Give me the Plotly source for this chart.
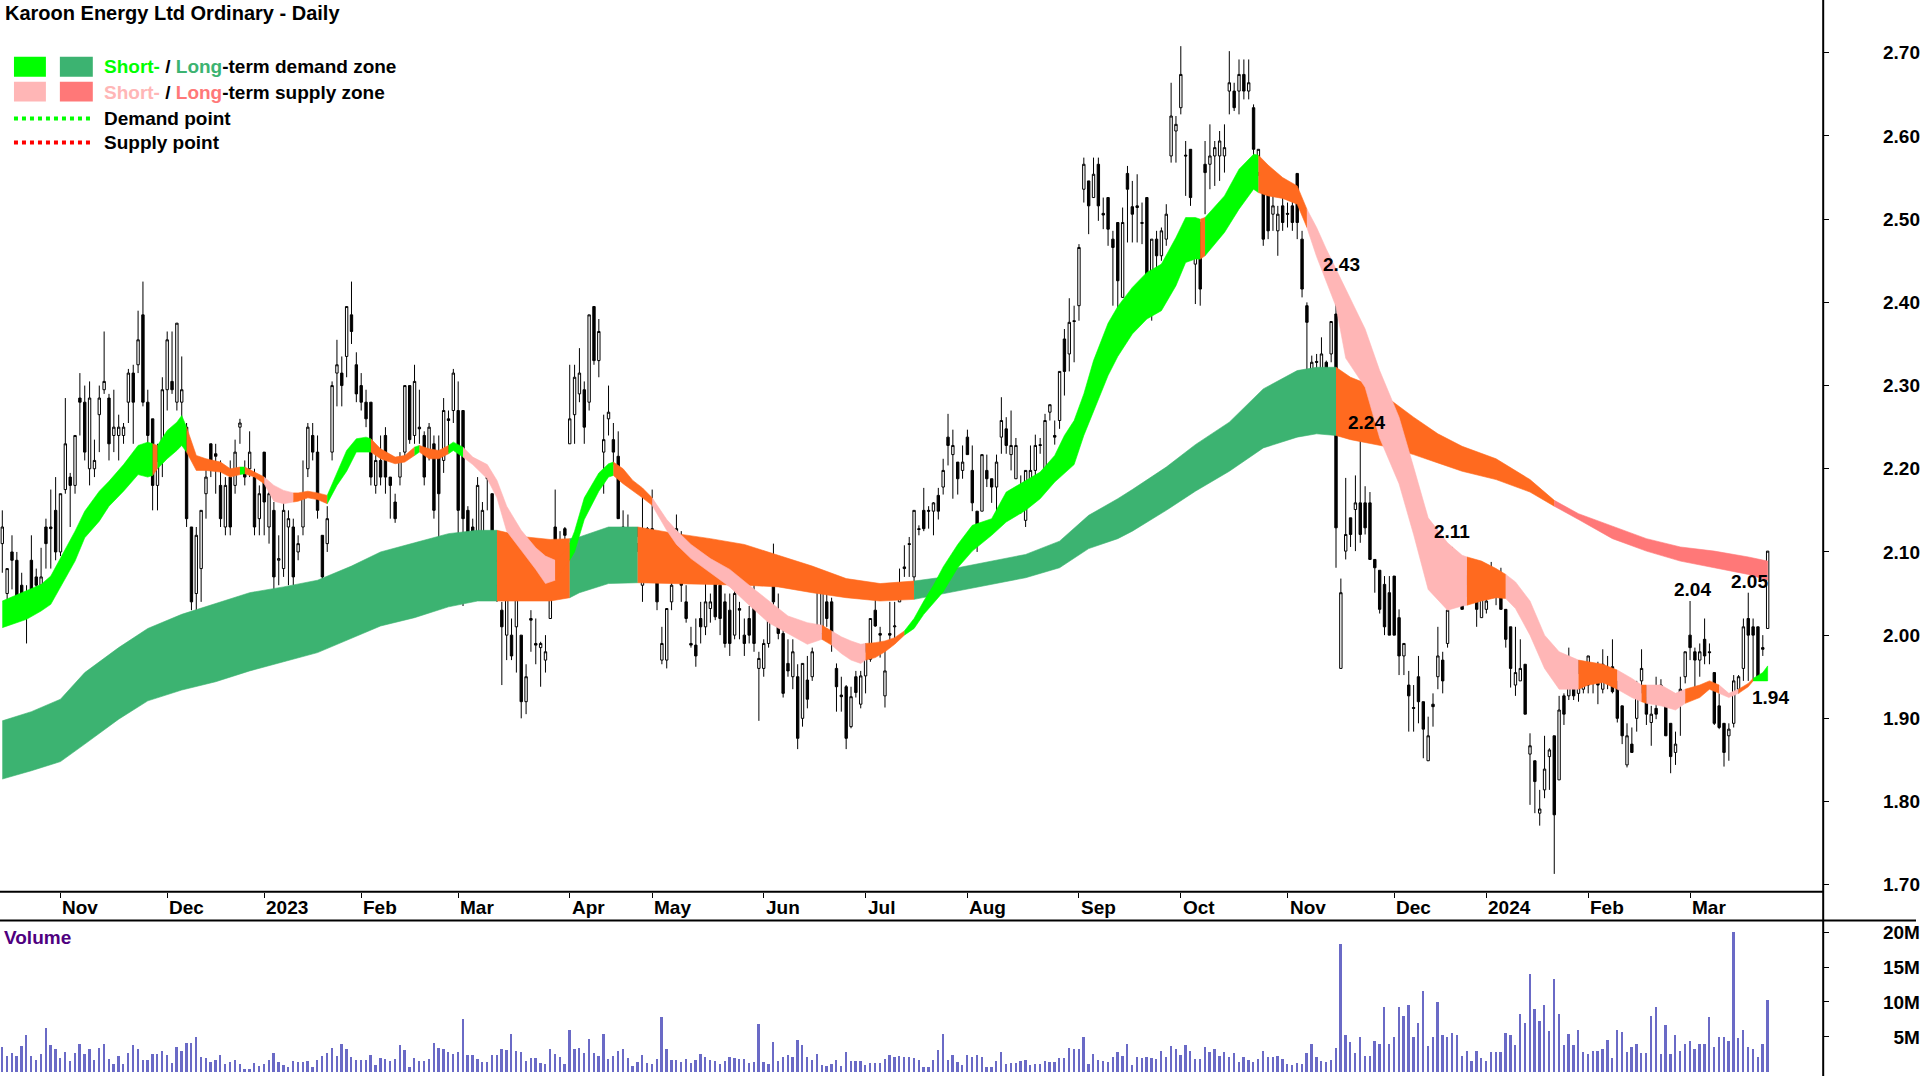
import pandas as pd
import plotly.graph_objects as go

# ---------------- data ----------------
opens = [
 2.110,2.050,2.100,2.090,2.060,2.030,2.090,2.070,2.060,2.130,
 2.130,2.150,2.100,2.175,2.190,2.180,2.285,2.280,2.200,2.200,
 2.265,2.295,2.285,2.240,2.240,2.240,2.280,2.315,2.325,2.385,
 2.280,2.260,2.180,2.220,2.295,2.305,2.280,2.280,2.250,2.130,
 2.050,2.080,2.170,2.230,2.218,2.180,2.130,2.190,2.180,2.250,
 2.200,2.200,2.190,2.140,2.220,2.130,2.150,2.090,2.080,2.130,
 2.130,2.100,2.130,2.200,2.240,2.220,2.120,2.110,2.220,2.315,
 2.315,2.335,2.385,2.325,2.300,2.280,2.280,2.180,2.210,2.240,
 2.190,2.160,2.190,2.220,2.300,2.240,2.250,2.240,2.220,2.230,
 2.220,2.210,2.260,2.270,2.270,2.270,2.150,2.130,2.120,2.120,
 2.190,2.170,2.060,2.030,2.000,2.000,2.010,2.000,1.920,2.020,
 1.990,1.985,1.970,2.020,2.130,2.080,2.128,2.230,2.265,2.290,
 2.295,2.280,2.395,2.330,2.220,2.260,2.235,2.215,2.130,2.100,
 2.128,2.110,2.060,2.128,2.128,2.090,1.970,1.970,2.040,2.120,
 2.120,2.040,1.990,1.988,2.020,2.010,2.032,2.080,2.060,2.040,
 2.030,2.000,2.032,2.000,2.020,2.050,1.960,1.960,1.990,2.070,
 2.020,2.002,1.966,1.950,1.950,1.900,1.946,1.950,2.012,2.002,
 2.040,2.040,1.960,1.928,1.938,1.890,1.950,1.917,1.951,1.971,
 2.030,2.002,1.927,2.002,2.010,2.040,2.082,2.110,2.070,2.128,
 2.150,2.150,2.149,2.168,2.178,2.238,2.217,2.208,2.198,2.238,
 2.198,2.149,2.149,2.198,2.188,2.178,2.238,2.248,2.217,2.188,
 2.177,2.138,2.178,2.198,2.229,2.188,2.268,2.240,2.258,2.356,
 2.338,2.378,2.396,2.536,2.546,2.526,2.566,2.507,2.526,2.476,
 2.496,2.406,2.555,2.515,2.516,2.496,2.526,2.386,2.476,2.456,
 2.476,2.576,2.606,2.634,2.577,2.584,2.446,2.496,2.566,2.566,
 2.576,2.576,2.576,2.654,2.654,2.654,2.674,2.654,2.634,2.556,
 2.564,2.536,2.506,2.486,2.516,2.507,2.516,2.555,2.476,2.396,
 2.288,2.329,2.318,2.328,2.338,2.386,1.960,2.101,2.141,2.151,
 2.159,2.159,2.159,2.091,2.078,2.061,2.051,2.071,2.021,1.975,
 1.940,1.913,1.950,1.920,1.849,1.917,1.950,1.970,1.990,2.051,
 2.061,2.071,2.071,2.061,2.041,2.021,2.031,2.071,2.051,2.071,
 2.031,2.010,1.940,1.945,1.965,1.857,1.849,1.786,1.814,1.854,
 1.879,1.826,1.927,1.927,1.942,1.930,1.935,1.940,1.955,1.953,
 1.935,1.960,1.962,1.940,1.915,1.844,1.869,1.900,1.945,1.925,
 1.895,1.912,1.940,1.925,1.894,1.859,1.925,1.950,2.000,1.980,
 1.970,1.995,1.980,1.955,1.915,1.894,1.879,1.894,1.935,1.960,
 2.020,2.010,2.010,1.985,2.008]
highs = [
 2.150,2.080,2.120,2.100,2.075,2.060,2.120,2.080,2.105,2.140,
 2.175,2.190,2.170,2.285,2.195,2.240,2.315,2.300,2.305,2.235,
 2.300,2.365,2.290,2.295,2.265,2.255,2.320,2.325,2.390,2.425,
 2.295,2.260,2.230,2.310,2.365,2.365,2.375,2.335,2.255,2.130,
 2.130,2.150,2.210,2.230,2.230,2.210,2.190,2.210,2.235,2.260,
 2.210,2.245,2.200,2.180,2.220,2.180,2.160,2.120,2.160,2.150,
 2.140,2.120,2.210,2.255,2.255,2.240,2.120,2.155,2.305,2.355,
 2.335,2.395,2.425,2.340,2.315,2.295,2.280,2.220,2.240,2.250,
 2.190,2.170,2.220,2.300,2.300,2.325,2.295,2.245,2.255,2.240,
 2.240,2.285,2.270,2.320,2.305,2.270,2.155,2.140,2.190,2.160,
 2.195,2.170,2.090,2.040,2.085,2.020,2.060,2.000,1.965,2.030,
 2.020,1.992,2.000,2.110,2.175,2.125,2.130,2.325,2.325,2.345,
 2.305,2.385,2.395,2.380,2.265,2.300,2.255,2.245,2.150,2.145,
 2.130,2.130,2.170,2.130,2.175,2.110,2.010,2.032,2.080,2.145,
 2.125,2.060,2.010,2.020,2.040,2.070,2.050,2.100,2.070,2.050,
 2.050,2.060,2.040,2.020,2.035,2.070,1.980,1.995,2.040,2.110,
 2.050,2.010,1.995,1.995,1.965,1.966,1.975,1.985,2.060,2.065,
 2.050,2.045,1.966,1.950,1.940,1.938,1.957,1.957,1.990,2.020,
 2.050,2.010,1.990,2.040,2.040,2.080,2.108,2.118,2.150,2.132,
 2.177,2.155,2.160,2.177,2.212,2.266,2.247,2.208,2.228,2.247,
 2.228,2.149,2.217,2.217,2.188,2.217,2.286,2.262,2.270,2.237,
 2.192,2.198,2.228,2.241,2.237,2.266,2.277,2.258,2.317,2.368,
 2.405,2.396,2.470,2.574,2.546,2.574,2.574,2.526,2.526,2.486,
 2.496,2.514,2.564,2.546,2.554,2.520,2.526,2.476,2.486,2.490,
 2.518,2.664,2.624,2.708,2.594,2.584,2.496,2.496,2.594,2.614,
 2.594,2.606,2.614,2.702,2.664,2.692,2.692,2.692,2.638,2.584,
 2.564,2.544,2.544,2.516,2.526,2.520,2.536,2.555,2.486,2.400,
 2.336,2.338,2.358,2.330,2.377,2.426,2.068,2.189,2.141,2.192,
 2.237,2.179,2.172,2.091,2.078,2.071,2.071,2.071,2.031,1.990,
 1.957,1.940,1.975,1.920,1.902,1.930,2.010,1.980,2.041,2.106,
 2.071,2.075,2.078,2.071,2.061,2.081,2.053,2.088,2.071,2.081,
 2.031,2.010,2.010,1.995,1.965,1.882,1.849,1.814,1.879,1.864,
 1.879,1.927,1.930,1.985,1.955,1.970,1.960,1.975,1.960,1.968,
 1.983,1.975,1.995,1.945,1.915,1.894,1.889,1.945,1.983,1.940,
 1.915,1.950,1.947,1.925,1.894,1.884,1.950,1.980,2.041,1.985,
 1.990,2.020,1.990,1.955,1.930,1.894,1.894,1.952,1.952,2.020,
 2.051,2.020,2.010,2.000,2.101]
lows = [
 2.075,2.025,2.055,2.020,2.020,1.990,2.040,2.040,2.050,2.080,
 2.080,2.090,2.095,2.170,2.130,2.170,2.240,2.210,2.180,2.190,
 2.220,2.290,2.210,2.220,2.210,2.230,2.255,2.230,2.315,2.275,
 2.230,2.150,2.150,2.190,2.270,2.290,2.270,2.250,2.130,2.030,
 2.000,2.040,2.140,2.190,2.170,2.130,2.120,2.120,2.170,2.230,
 2.180,2.190,2.120,2.120,2.120,2.110,2.050,2.060,2.070,2.060,
 2.060,2.090,2.120,2.190,2.210,2.140,2.055,2.100,2.210,2.275,
 2.275,2.310,2.350,2.280,2.270,2.250,2.180,2.170,2.180,2.170,
 2.140,2.135,2.180,2.210,2.230,2.230,2.230,2.180,2.210,2.140,
 2.110,2.195,2.220,2.255,2.100,2.035,2.100,2.080,2.100,2.090,
 2.150,2.060,2.040,1.940,1.970,1.970,1.955,1.900,1.905,1.980,
 1.965,1.938,1.955,2.020,2.090,2.075,2.100,2.230,2.230,2.280,
 2.230,2.270,2.325,2.310,2.170,2.240,2.205,2.140,2.100,2.100,
 2.100,2.100,2.040,2.100,2.100,2.030,1.965,1.960,2.030,2.095,
 2.040,2.015,1.985,1.962,1.990,2.000,2.015,2.018,2.000,1.985,
 1.975,1.995,1.995,1.975,1.990,1.980,1.897,1.950,1.985,2.030,
 1.995,1.925,1.950,1.935,1.863,1.890,1.912,1.945,2.005,1.995,
 2.010,1.980,1.908,1.908,1.863,1.888,1.925,1.912,1.930,1.968,
 2.010,1.973,1.913,1.990,1.990,2.040,2.070,2.070,2.060,2.120,
 2.125,2.128,2.120,2.139,2.169,2.204,2.164,2.169,2.188,2.217,
 2.149,2.100,2.149,2.178,2.159,2.138,2.218,2.218,2.198,2.188,
 2.146,2.130,2.169,2.188,2.218,2.188,2.258,2.229,2.248,2.288,
 2.317,2.328,2.378,2.520,2.482,2.526,2.498,2.488,2.468,2.396,
 2.384,2.406,2.472,2.472,2.472,2.470,2.406,2.378,2.428,2.450,
 2.468,2.568,2.568,2.626,2.528,2.516,2.398,2.396,2.506,2.536,
 2.540,2.546,2.556,2.626,2.630,2.626,2.644,2.644,2.572,2.552,
 2.468,2.476,2.486,2.456,2.486,2.490,2.486,2.476,2.406,2.310,
 2.260,2.298,2.300,2.248,2.328,2.081,1.960,2.091,2.106,2.101,
 2.111,2.121,2.091,2.051,2.026,2.000,2.000,2.000,1.952,1.952,
 1.884,1.884,1.894,1.852,1.849,1.890,1.935,1.930,1.985,2.041,
 2.036,2.031,2.046,2.051,2.010,2.021,2.026,2.061,2.036,2.031,
 1.985,1.937,1.927,1.945,1.905,1.796,1.786,1.771,1.804,1.814,
 1.713,1.826,1.892,1.922,1.922,1.920,1.930,1.930,1.930,1.917,
 1.930,1.935,1.930,1.895,1.869,1.841,1.859,1.884,1.930,1.892,
 1.867,1.899,1.922,1.879,1.834,1.844,1.879,1.942,1.970,1.935,
 1.950,1.965,1.965,1.892,1.887,1.842,1.849,1.889,1.930,1.945,
 1.945,1.945,1.945,1.975,2.008]
closes = [
 2.130,2.080,2.090,2.020,2.030,2.050,2.050,2.060,2.070,2.110,
 2.128,2.100,2.170,2.230,2.180,2.240,2.280,2.220,2.285,2.210,
 2.285,2.305,2.230,2.250,2.250,2.250,2.315,2.280,2.355,2.280,
 2.240,2.180,2.210,2.295,2.355,2.295,2.375,2.295,2.140,2.040,
 2.120,2.150,2.190,2.200,2.215,2.140,2.180,2.130,2.220,2.255,
 2.190,2.220,2.130,2.170,2.160,2.170,2.070,2.092,2.150,2.140,
 2.070,2.110,2.170,2.250,2.220,2.150,2.070,2.140,2.300,2.325,
 2.300,2.395,2.365,2.290,2.280,2.260,2.190,2.210,2.190,2.190,
 2.180,2.140,2.210,2.300,2.235,2.305,2.248,2.190,2.250,2.150,
 2.170,2.270,2.258,2.315,2.150,2.140,2.110,2.120,2.180,2.150,
 2.188,2.060,2.090,2.010,2.060,1.975,2.050,1.920,1.950,2.018,
 1.988,1.990,1.980,2.080,2.090,2.110,2.120,2.260,2.310,2.315,
 2.250,2.385,2.330,2.365,2.235,2.268,2.220,2.140,2.110,2.120,
 2.110,2.120,2.128,2.110,2.110,2.040,1.990,2.032,2.060,2.128,
 2.060,2.020,1.988,1.975,2.010,2.040,2.040,2.022,2.020,1.990,
 1.990,2.050,2.030,1.990,2.000,1.990,1.972,1.990,2.030,2.040,
 2.002,1.930,1.957,1.980,1.876,1.966,1.923,1.980,2.010,2.060,
 2.020,1.990,1.938,1.926,1.876,1.926,1.931,1.951,1.981,2.020,
 2.011,2.000,1.957,2.000,2.011,2.060,2.080,2.109,2.150,2.127,
 2.128,2.149,2.159,2.149,2.198,2.228,2.228,2.188,2.208,2.217,
 2.159,2.128,2.217,2.188,2.178,2.208,2.258,2.228,2.228,2.228,
 2.168,2.198,2.198,2.228,2.228,2.258,2.277,2.238,2.317,2.317,
 2.376,2.377,2.466,2.566,2.516,2.554,2.516,2.505,2.488,2.466,
 2.426,2.496,2.536,2.506,2.514,2.495,2.406,2.476,2.456,2.486,
 2.506,2.624,2.614,2.674,2.576,2.526,2.486,2.416,2.556,2.576,
 2.586,2.594,2.586,2.664,2.634,2.674,2.654,2.664,2.584,2.584,
 2.476,2.486,2.516,2.506,2.496,2.506,2.496,2.496,2.416,2.376,
 2.328,2.328,2.338,2.278,2.377,2.129,2.051,2.121,2.121,2.159,
 2.121,2.129,2.091,2.081,2.031,2.010,2.000,2.000,1.975,1.990,
 1.927,1.912,1.920,1.887,1.879,1.914,1.975,1.945,2.030,2.071,
 2.051,2.031,2.061,2.060,2.031,2.071,2.041,2.078,2.050,2.031,
 1.995,1.960,1.955,1.960,1.905,1.867,1.824,1.791,1.839,1.862,
 1.784,1.910,1.905,1.955,1.927,1.955,1.950,1.975,1.945,1.940,
 1.965,1.945,1.932,1.900,1.879,1.879,1.859,1.935,1.960,1.905,
 1.905,1.905,1.925,1.879,1.854,1.869,1.935,1.980,1.985,1.970,
 1.980,1.975,1.979,1.894,1.889,1.859,1.887,1.945,1.950,2.010,
 2.000,2.000,1.950,1.983,2.101]
volumes_m = [
 3.6,2.3,2.8,2.3,3.7,5.3,2.3,1.8,2.6,6.4,
 3.9,3.3,2.0,2.9,1.6,2.8,4.0,2.6,3.3,1.7,
 3.5,4.0,1.9,1.1,2.3,1.1,2.8,3.9,3.3,1.8,
 1.8,2.6,2.6,3.1,2.5,1.3,3.6,3.0,4.2,4.2,
 5.0,2.1,2.0,1.4,1.7,2.5,1.1,1.4,1.7,1.1,
 0.5,0.5,1.3,0.9,1.1,1.7,2.8,1.4,1.0,0.7,
 1.6,1.5,1.5,1.6,0.7,1.8,2.3,2.8,3.4,2.3,
 4.0,3.3,2.1,1.8,1.8,1.8,2.5,1.0,2.0,1.9,
 1.6,1.9,3.9,3.2,0.7,2.0,1.6,1.6,1.9,4.2,
 3.4,3.3,2.9,2.6,2.9,7.6,2.5,2.5,1.9,1.4,
 1.4,2.5,2.5,3.3,3.2,5.5,3.0,2.9,1.6,2.0,
 2.0,1.3,1.1,3.3,2.6,2.1,1.1,6.0,3.3,3.4,
 2.8,4.8,2.8,2.3,5.5,1.9,2.3,3.0,3.3,2.0,
 0.9,1.4,2.5,1.3,1.1,1.9,7.9,3.3,1.7,1.8,
 1.5,1.9,1.3,1.8,2.6,2.1,1.7,1.6,1.1,1.6,
 2.1,2.0,1.9,1.9,1.3,1.5,6.9,1.4,1.1,4.3,
 1.6,2.1,2.4,2.1,4.6,3.9,2.1,1.7,2.6,1.0,
 0.9,1.2,1.8,0.9,2.9,1.6,1.6,1.6,1.0,1.3,
 1.3,1.3,1.9,2.4,2.1,2.3,2.1,2.1,2.0,1.7,
 0.7,0.7,1.8,3.2,5.5,1.8,2.5,1.4,1.0,2.4,
 2.1,2.4,2.1,0.7,0.7,1.6,2.9,1.2,1.3,1.3,
 1.6,1.7,1.0,1.1,1.2,1.6,1.4,1.4,2.0,2.0,
 3.4,3.3,3.3,5.1,1.1,2.6,1.7,1.6,1.4,2.1,
 2.9,2.3,4.1,1.0,2.1,2.0,2.1,2.0,1.9,3.1,
 2.1,3.7,3.3,2.4,3.9,3.0,1.9,1.9,3.6,2.9,
 3.3,2.3,2.9,2.1,2.7,1.4,2.1,1.7,1.4,1.9,
 3.0,2.1,2.1,2.3,1.9,1.2,1.0,1.3,1.2,2.7,
 4.1,2.1,1.6,1.5,1.7,3.4,18.4,5.3,4.3,2.7,
 5.1,2.3,2.3,4.4,4.1,9.4,4.0,5.0,9.3,8.0,
 9.6,5.1,7.0,11.7,3.7,5.1,10.0,5.3,5.1,5.6,
 5.3,2.3,3.0,1.6,3.0,2.0,1.6,2.9,2.9,2.9,
 5.6,5.3,3.9,8.3,7.0,14.1,9.1,7.3,9.6,5.9,
 13.4,8.3,3.9,5.4,3.9,6.1,2.9,2.6,3.0,3.1,
 3.3,4.6,2.0,6.1,5.7,2.9,3.6,4.1,2.7,2.7,
 8.1,9.4,2.6,6.7,2.6,5.3,3.1,4.1,4.4,3.3,
 4.1,4.0,7.9,3.6,5.0,5.0,4.4,20.1,4.9,6.0,
 3.6,3.3,2.1,4.1,10.3]

# short-term zone: sample day index, upper / lower edge, state of the stretch starting there
st_idx = [0,5,8,10,12,15,17,20,22,25, 28,30,31,32,34,36,37,38,40,42,
 45,47,49,50,52,54,56,58,60,61, 63,65,67,69,71,73,75,76,78,81,
 83,85,86,88,90,92,93,95,97,100, 102,104,107,110,112,114,116,117,118,120,
 123,125,126,128,130,132,134,137,139,142, 146,150,154,158,162,166,169,171,173,175,
 177,178,180,182,184,186,188,190,192,194, 197,200,204,207,211,214,217,219,221,223,
 225,228,230,233,236,239,242,244,246,247, 248,250,252,255,258,259,261,264,267,269,
 271,273,275,277,281,284,288,291,294,298, 301,302,305,308,310,312,315,318,321,325,
 327,330,333,336,338,339,342,345,347,350, 352,354,356,358,360,361,363,364]
st_top = [2.041,2.053,2.061,2.071,2.093,2.125,2.149,2.173,2.185,2.205,
 2.228,2.232,2.230,2.228,2.246,2.256,2.264,2.250,2.216,2.212,
 2.208,2.200,2.202,2.202,2.196,2.190,2.180,2.174,2.171,2.171,
 2.173,2.171,2.168,2.195,2.222,2.236,2.238,2.236,2.224,2.214,
 2.216,2.226,2.228,2.224,2.222,2.228,2.232,2.226,2.214,2.205,
 2.186,2.155,2.126,2.105,2.095,2.090,2.100,2.110,2.125,2.165,
 2.195,2.206,2.208,2.200,2.186,2.177,2.165,2.139,2.126,2.109,
 2.092,2.079,2.060,2.041,2.023,2.015,2.012,2.005,1.998,1.993,
 1.989,1.990,1.991,1.993,1.997,2.005,2.020,2.041,2.060,2.082,
 2.109,2.132,2.140,2.172,2.186,2.196,2.216,2.240,2.258,2.290,
 2.330,2.375,2.395,2.418,2.436,2.446,2.478,2.502,2.502,2.500,
 2.502,2.515,2.528,2.560,2.578,2.577,2.565,2.550,2.540,2.512,
 2.490,2.464,2.440,2.414,2.368,2.318,2.262,2.202,2.141,2.111,
 2.096,2.094,2.089,2.080,2.073,2.064,2.041,2.000,1.980,1.970,
 1.968,1.965,1.958,1.948,1.940,1.940,1.940,1.930,1.935,1.940,
 1.945,1.940,1.930,1.935,1.942,1.948,1.955,1.963]
st_bot = [2.009,2.019,2.029,2.037,2.057,2.089,2.117,2.137,2.155,2.173,
 2.193,2.190,2.192,2.200,2.212,2.222,2.228,2.220,2.198,2.198,
 2.196,2.190,2.193,2.194,2.190,2.182,2.161,2.158,2.160,2.161,
 2.165,2.163,2.158,2.180,2.197,2.220,2.220,2.220,2.212,2.206,
 2.208,2.216,2.220,2.212,2.212,2.218,2.222,2.214,2.205,2.188,
 2.165,2.125,2.102,2.079,2.062,2.066,2.082,2.090,2.100,2.139,
 2.173,2.190,2.192,2.182,2.173,2.165,2.156,2.126,2.109,2.092,
 2.075,2.058,2.036,2.015,2.002,1.989,1.995,1.988,1.978,1.970,
 1.966,1.970,1.973,1.980,1.989,2.000,2.008,2.025,2.038,2.052,
 2.081,2.101,2.120,2.136,2.150,2.164,2.184,2.195,2.205,2.240,
 2.268,2.312,2.335,2.362,2.380,2.390,2.420,2.448,2.452,2.452,
 2.456,2.470,2.484,2.512,2.536,2.532,2.528,2.525,2.518,2.490,
 2.455,2.424,2.395,2.333,2.298,2.237,2.182,2.121,2.055,2.030,
 2.035,2.036,2.041,2.045,2.044,2.032,2.000,1.960,1.935,1.935,
 1.940,1.943,1.935,1.925,1.920,1.918,1.915,1.910,1.918,1.925,
 1.935,1.930,1.925,1.930,1.938,1.945,1.945,1.945]
st_state = ("DDDDDDDDDD" "DDNDDDDNNN" "NNDNNSSSNN" "NNDDDDDNNN" "NDNNNDDSSS"
            "SSSSSNNDDD" "DDNNNNSSSS" "SSSSSSNSSS" "SNNNNDDDDD" "DDDDDDDDDD"
            "DDDDDDDDDN" "DDDDDNNNNS" "SSSSSSSSSS" "SNNNSSSSSN" "NNSSNSSSNN" "NSSNNDDD")

# long-term zone
lt_idx = [0,6,12,17,24,30,37,44,51,58, 65,72,78,85,92,98,102,108,113,117,
 119,125,131,139,146,153,160,167,174,181, 188,193,197,204,211,218,224,230,233,240,
 246,253,260,267,271,275,278,281,285,291, 296,301,308,315,320,325,332,339,346,353, 360,364]
lt_top = [1.897,1.908,1.923,1.955,1.985,2.008,2.025,2.038,2.051,2.058,
 2.066,2.083,2.100,2.111,2.122,2.126,2.126,2.118,2.115,2.116,
 2.118,2.130,2.130,2.122,2.116,2.109,2.096,2.083,2.068,2.062,
 2.065,2.069,2.081,2.089,2.097,2.113,2.144,2.164,2.175,2.202,
 2.229,2.256,2.296,2.318,2.322,2.322,2.310,2.303,2.288,2.262,
 2.242,2.227,2.212,2.187,2.162,2.146,2.131,2.116,2.106,2.101, 2.094,2.089]
lt_bot = [1.827,1.837,1.848,1.869,1.899,1.921,1.934,1.944,1.957,1.968,
 1.979,1.996,2.011,2.021,2.034,2.041,2.041,2.041,2.041,2.045,
 2.051,2.062,2.063,2.062,2.061,2.060,2.058,2.051,2.045,2.041,
 2.043,2.049,2.053,2.061,2.069,2.081,2.104,2.116,2.125,2.150,
 2.173,2.197,2.225,2.238,2.242,2.240,2.235,2.232,2.227,2.217,
 2.207,2.197,2.187,2.172,2.155,2.139,2.116,2.101,2.089,2.081, 2.073,2.066]
lt_state = ("DDDDDDDDDD" "DDDDDDNNND" "DDNNNNNNNN" "DDDDDDDDDD" "DDDDDNNNNN" "NNNNSSSSSS" "SS")

# labelled demand / supply points
point_idx = [275, 280, 299, 348, 360, 362]
point_val = [2.43, 2.24, 2.11, 2.04, 2.05, 1.94]
point_side = ["above", "above", "above", "above", "above", "below"]

price_ticks = [1.70, 1.80, 1.90, 2.00, 2.10, 2.20, 2.30, 2.40, 2.50, 2.60, 2.70]
vol_ticks = [5, 10, 15, 20]
vol_ticktext = ["\u20075M", "10M", "15M", "20M"]

asx_holidays = ["2022-12-26", "2022-12-27", "2023-01-02", "2023-01-26", "2023-04-07",
                "2023-04-10", "2023-04-25", "2023-06-12", "2023-12-25", "2023-12-26",
                "2024-01-01", "2024-01-26"]

# ---------------- build ----------------
n = len(closes)
assert len(opens) == len(highs) == len(lows) == n == len(volumes_m)
assert len(st_idx) == len(st_top) == len(st_bot) == len(st_state)
assert len(lt_idx) == len(lt_top) == len(lt_bot) == len(lt_state)

days = pd.bdate_range("2022-10-14", "2024-04-30")
days = days[~days.isin(pd.to_datetime(asx_holidays))]
dates = days[:n]
idx = list(range(n))

month_pos = [k for k in range(1, n) if dates[k].month != dates[k - 1].month]
month_txt = [str(dates[k].year) if dates[k].month == 1 else dates[k].strftime("%b") for k in month_pos]

W, H = 1920, 1080
AXIS_X = 1827
PRICE_BOTTOM = 895
VOL_TOP = 924
FONT = "Liberation Sans, Arial, sans-serif"

def pxx(p):
    return p / W

def pxy(p):
    return 1 - p / H

ORANGE = "#FF6A1F"
ST_COL = {"D": "#00FF00", "S": "#FFB6B6", "N": ORANGE}
LT_COL = {"D": "#3CB371", "S": "#FF7878", "N": ORANGE}

fig = go.Figure()

def add_zone(xs, tops, bots, states, colors):
    k0 = 0
    last = len(xs) - 1
    while k0 < last:
        s = states[k0]
        k1 = k0 + 1
        while k1 < last and states[k1] == s:
            k1 += 1
        px_ = xs[k0:k1 + 1] + xs[k0:k1 + 1][::-1]
        py_ = tops[k0:k1 + 1] + bots[k0:k1 + 1][::-1]
        fig.add_trace(go.Scatter(x=px_, y=py_, mode="lines", fill="toself",
                                 fillcolor=colors[s], line=dict(color=colors[s], width=0.6),
                                 hoverinfo="skip", showlegend=False, xaxis="x", yaxis="y"))
        k0 = k1

add_zone(lt_idx, lt_top, lt_bot, lt_state, LT_COL)
add_zone(st_idx, st_top, st_bot, st_state, ST_COL)

fig.add_trace(go.Candlestick(
    x=idx, open=opens, high=highs, low=lows, close=closes,
    increasing=dict(line=dict(color="black", width=1), fillcolor="white"),
    decreasing=dict(line=dict(color="black", width=1), fillcolor="black"),
    whiskerwidth=0, showlegend=False, xaxis="x", yaxis="y",
    text=[d.strftime("%d %b %Y") for d in dates], hoverinfo="text+y"))

fig.add_trace(go.Bar(x=idx, y=volumes_m, width=0.38, marker=dict(color="#6A6AC6", line=dict(width=0)),
                     showlegend=False, xaxis="x2", yaxis="y2", hoverinfo="skip"))

x_left = -2.3 / 4.86
x_right = x_left + AXIS_X / 4.86
y_top = 2.70 + 53 / 835.0
y_bot = y_top - PRICE_BOTTOM / 835.0

tickfont = dict(family=FONT, size=19, color="black", weight="bold")

fig.update_layout(
    width=W, height=H, margin=dict(l=0, r=0, t=0, b=0),
    paper_bgcolor="white", plot_bgcolor="white",
    font=dict(family=FONT, color="black"),
    showlegend=False, bargap=0,
    xaxis=dict(domain=[0, pxx(AXIS_X)], range=[x_left, x_right], anchor="y",
               showgrid=False, zeroline=False, showline=False,
               ticks="outside", tickvals=month_pos, ticklen=5, tickwidth=1, tickcolor="black",
               showticklabels=False, rangeslider=dict(visible=False), fixedrange=True),
    yaxis=dict(domain=[pxy(PRICE_BOTTOM), 1], range=[y_bot, y_top], side="right", anchor="x",
               showgrid=False, zeroline=False, showline=False,
               ticks="outside", ticklen=5, tickwidth=1, tickcolor="black",
               tickvals=price_ticks, ticktext=[f"{v:.2f}" for v in price_ticks],
               tickfont=tickfont, ticklabelstandoff=50),
    xaxis2=dict(domain=[0, pxx(AXIS_X)], range=[x_left, x_right], anchor="y2", matches="x",
                showgrid=False, zeroline=False, showline=False, showticklabels=False, ticks=""),
    yaxis2=dict(domain=[0, pxy(VOL_TOP)], range=[(1075.7 - H) / 7.0, (1075.7 - VOL_TOP) / 7.0],
                side="right", anchor="x2", showgrid=False, zeroline=False, showline=False,
                ticks="outside", ticklen=5, tickwidth=1, tickcolor="black",
                tickvals=vol_ticks, ticktext=vol_ticktext, tickfont=tickfont, ticklabelstandoff=50),
)

shapes = [
    dict(type="line", xref="paper", yref="paper", x0=pxx(AXIS_X), x1=pxx(AXIS_X), y0=0, y1=1,
         line=dict(color="black", width=2)),
    dict(type="line", xref="paper", yref="paper", x0=0, x1=pxx(AXIS_X), y0=pxy(PRICE_BOTTOM), y1=pxy(PRICE_BOTTOM),
         line=dict(color="black", width=2)),
    dict(type="line", xref="paper", yref="paper", x0=0, x1=1, y0=pxy(VOL_TOP), y1=pxy(VOL_TOP),
         line=dict(color="black", width=2)),
]
# legend swatches
for (x0, x1, y0, y1, c) in [(14, 46, 57, 77, ST_COL["D"]), (60, 93, 57, 77, LT_COL["D"]),
                            (14, 46, 82, 102, ST_COL["S"]), (60, 93, 82, 102, LT_COL["S"])]:
    shapes.append(dict(type="rect", xref="paper", yref="paper", x0=pxx(x0), x1=pxx(x1),
                       y0=pxy(y1), y1=pxy(y0), fillcolor=c, line=dict(width=0)))
for (yy, c) in [(119, "#00FF00"), (143, "#FF0000")]:
    shapes.append(dict(type="line", xref="paper", yref="paper", x0=pxx(14), x1=pxx(92),
                       y0=pxy(yy), y1=pxy(yy), line=dict(color=c, width=4, dash="dot")))
fig.update_layout(shapes=shapes)

ann = []
ann.append(dict(x=pxx(3), y=pxy(13), xref="paper", yref="paper", xanchor="left", yanchor="middle",
                text="Karoon Energy Ltd Ordinary - Daily", showarrow=False,
                font=dict(family=FONT, size=20, color="black", weight="bold")))
legend_rows = [
    (67, "<span style='color:#00FF00'>Short-</span> / <span style='color:#3CB371'>Long</span>-term demand zone"),
    (93, "<span style='color:#FFB6B6'>Short-</span> / <span style='color:#FF7878'>Long</span>-term supply zone"),
    (119, "Demand point"),
    (143, "Supply point"),
]
for yy, t in legend_rows:
    ann.append(dict(x=pxx(102), y=pxy(yy), xref="paper", yref="paper", xanchor="left", yanchor="middle",
                    text=t, showarrow=False, font=dict(family=FONT, size=19, color="black", weight="bold")))
for k, t in zip(month_pos, month_txt):
    ann.append(dict(x=k, y=pxy(911), xref="x", yref="paper", xanchor="left", yanchor="middle",
                    xshift=0, text=t, showarrow=False,
                    font=dict(family=FONT, size=19, color="black", weight="bold")))
ann.append(dict(x=pxx(2), y=pxy(941), xref="paper", yref="paper", xanchor="left", yanchor="middle",
                text="Volume", showarrow=False, font=dict(family=FONT, size=19, color="#4F007F", weight="bold")))
label_shift = [5, 6, 0, 2, 1, 13]
for k, v, s, dx in zip(point_idx, point_val, point_side, label_shift):
    ann.append(dict(x=k, y=v, xref="x", yref="y", xanchor="center",
                    yanchor="bottom" if s == "above" else "top", xshift=dx,
                    text=f"{v:.2f}", showarrow=False,
                    font=dict(family=FONT, size=19, color="black", weight="bold")))
fig.update_layout(annotations=ann)

page_fix = ("var b=document.body.style;b.margin='0';b.padding='0';b.lineHeight='0';"
            "b.overflow='hidden';var h=document.documentElement.style;h.margin='0';h.overflow='hidden';"
            "var g=document.getElementsByClassName('plotly-graph-div');"
            "for(var i=0;i<g.length;i++){g[i].style.display='block';}")
fig.write_html("out.html", config={"displayModeBar": False}, post_script=page_fix)
